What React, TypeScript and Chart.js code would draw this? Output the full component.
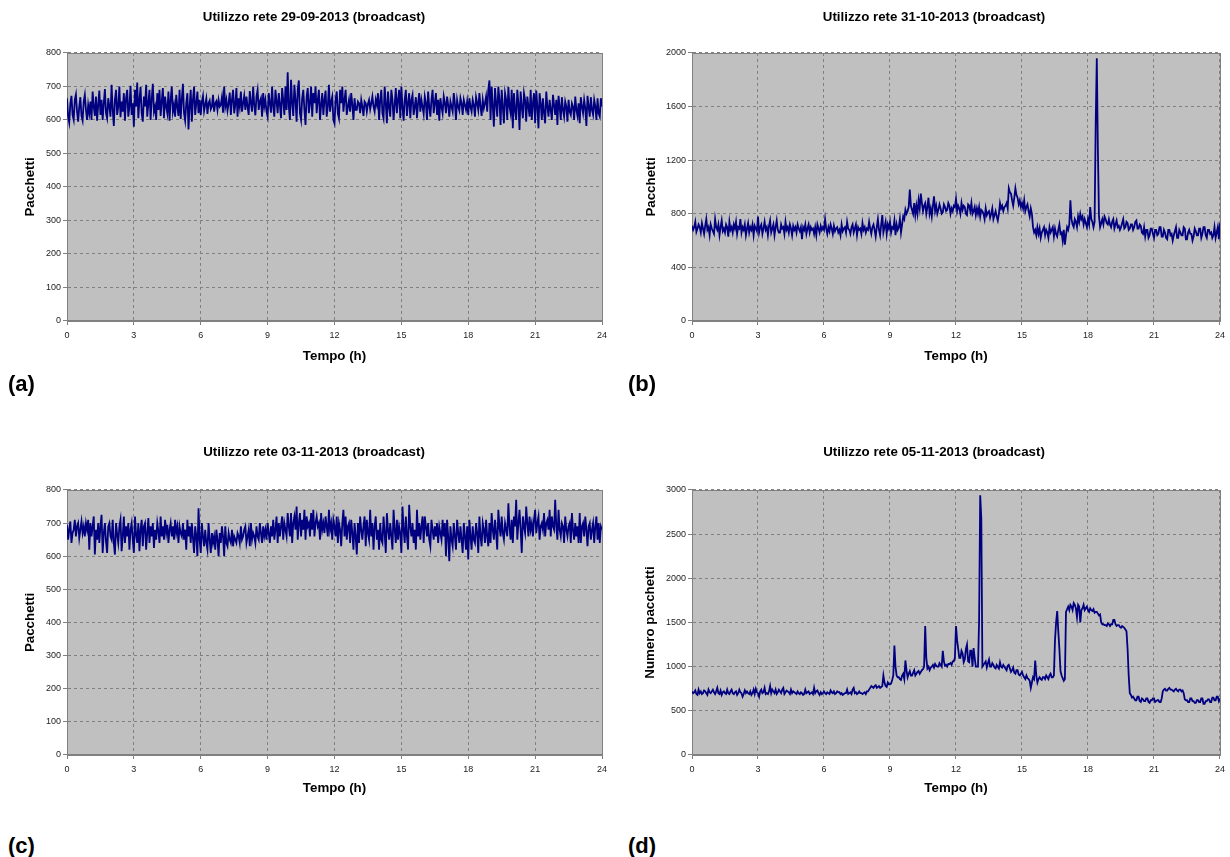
import { useEffect, useRef } from "react";
import { Chart, registerables } from "chart.js";

Chart.register(...registerables);

// ---- data: each series spans 0h .. 24h, one sample every 3 minutes ----
const X_MIN = 0;
const X_MAX = 24;
const X_TICK_STEP = 3;

const titles = [
  "Utilizzo rete 29-09-2013 (broadcast)",
  "Utilizzo rete 31-10-2013 (broadcast)",
  "Utilizzo rete 03-11-2013 (broadcast)",
  "Utilizzo rete 05-11-2013 (broadcast)",
];
const yTitles = ["Pacchetti", "Pacchetti", "Pacchetti", "Numero pacchetti"];
const xTitle = "Tempo (h)";
const panelLabels = ["(a)", "(b)", "(c)", "(d)"];
const yMaxes = [800, 2000, 800, 3000];
const ySteps = [100, 400, 100, 500];

const serie29_09 = [
  665, 610, 592, 648, 672, 615, 600, 660, 676, 625, 595, 640, 668, 612, 598, 655, 675, 630, 600, 645,
  620, 655, 600, 685, 640, 612, 670, 598, 645, 688, 615, 660, 600, 650, 692, 620, 605, 665, 640, 610,
  705, 630, 582, 660, 690, 615, 640, 700, 608, 655, 625, 680, 598, 665, 690, 610, 640, 702, 615, 650,
  580, 690, 640, 712, 605, 660, 698, 620, 595, 670, 640, 705, 610, 650, 690, 600, 662, 708, 625, 640,
  600, 680, 630, 690, 612, 655, 695, 605, 670, 640, 620, 685, 598, 660, 700, 625, 645, 610, 675, 640,
  612, 690, 603, 660, 708, 620, 598, 650, 680, 572, 640, 690, 595, 660, 700, 615, 650, 685, 620, 660,
  615, 655, 672, 626, 645, 664, 618, 650, 658, 632, 640, 675, 625, 650, 656, 630, 660, 640, 645, 668,
  622, 700, 640, 660, 628, 650, 682, 615, 660, 690, 620, 645, 695, 610, 665, 640, 685, 625, 650, 672,
  630, 670, 640, 615, 686, 650, 625, 700, 645, 614, 670, 690, 630, 655, 665, 610, 680, 640, 660, 625,
  610, 680, 650, 622, 700, 640, 610, 690, 655, 620, 680, 645, 605, 695, 660, 615, 700, 630, 742, 640,
  600, 720, 650, 612, 705, 660, 595, 690, 718, 620, 600, 665, 690, 630, 585, 670, 695, 620, 650, 700,
  610, 680, 650, 700, 620, 660, 690, 600, 645, 680, 615, 660, 688, 610, 640, 705, 625, 655, 670, 600,
  590, 660, 685, 620, 605, 690, 650, 700, 625, 660, 690, 615, 640, 660, 625, 680, 645, 600, 665, 630,
  630, 655, 650, 620, 660, 640, 612, 655, 650, 625, 648, 660, 632, 650, 670, 640, 625, 660, 645, 680,
  600, 660, 690, 620, 605, 700, 650, 590, 685, 640, 610, 690, 660, 600, 645, 695, 620, 660, 690, 605,
  700, 640, 598, 660, 690, 612, 650, 680, 605, 660, 675, 615, 640, 668, 605, 650, 680, 625, 660, 640,
  618, 670, 650, 600, 685, 640, 610, 660, 690, 620, 650, 680, 615, 660, 598, 665, 640, 620, 670, 650,
  620, 670, 645, 610, 655, 640, 625, 680, 650, 600, 660, 640, 628, 665, 650, 615, 660, 645, 630, 655,
  615, 665, 640, 625, 660, 645, 610, 668, 650, 630, 680, 640, 612, 660, 635, 650, 670, 625, 690, 718,
  600, 700, 640, 580, 695, 650, 610, 700, 660, 585, 690, 640, 590, 680, 660, 600, 698, 640, 620, 690,
  575, 680, 630, 600, 690, 650, 570, 685, 640, 605, 680, 660, 595, 670, 640, 610, 690, 600, 650, 680,
  590, 688, 640, 575, 680, 650, 600, 665, 620, 590, 685, 640, 610, 660, 630, 600, 675, 645, 615, 660,
  585, 672, 640, 600, 668, 630, 610, 655, 640, 595, 660, 625, 615, 650, 640, 600, 670, 630, 612, 650,
  590, 668, 640, 620, 660, 635, 582, 672, 640, 610, 668, 630, 615, 660, 640, 600, 665, 620, 610, 665,
  640,
];

const serie31_10 = [
  710, 680, 700, 740, 665, 690, 720, 700, 660, 730, 690, 650, 710, 760, 680, 700, 640, 720, 690, 670,
  650, 760, 700, 680, 720, 640, 700, 750, 670, 690, 660, 720, 700, 630, 740, 680, 700, 660, 720, 690,
  740, 650, 700, 690, 760, 660, 700, 680, 720, 640, 690, 730, 660, 700, 680, 720, 640, 710, 690, 670,
  780, 660, 700, 720, 650, 690, 740, 680, 700, 640, 710, 750, 660, 690, 720, 640, 700, 750, 680, 660,
  660, 720, 690, 700, 650, 740, 680, 700, 660, 720, 690, 640, 710, 680, 700, 660, 720, 690, 670, 700,
  610, 700, 680, 720, 650, 690, 720, 660, 700, 680, 690, 650, 700, 640, 720, 690, 660, 710, 680, 700,
  680, 760, 690, 650, 700, 670, 720, 690, 650, 710, 670, 690, 700, 660, 680, 640, 720, 670, 690, 700,
  660, 740, 690, 680, 650, 700, 720, 660, 690, 720, 640, 700, 680, 690, 650, 730, 680, 700, 660, 690,
  680, 740, 690, 650, 700, 720, 680, 630, 700, 760, 680, 640, 720, 790, 660, 700, 740, 650, 720, 690,
  740, 660, 700, 690, 750, 640, 720, 680, 700, 760, 660, 720, 780, 760, 830, 800, 820, 850, 980, 860,
  830, 800, 880, 790, 860, 800, 900, 840, 950, 880, 820, 860, 880, 800, 850, 920, 800, 840, 780, 860,
  930, 820, 860, 800, 830, 870, 840, 800, 810, 870, 850, 820, 830, 880, 860, 800, 840, 820, 860, 850,
  910, 820, 860, 840, 800, 880, 830, 860, 850, 800, 790, 870, 860, 820, 880, 800, 820, 850, 790, 840,
  800, 850, 780, 830, 820, 800, 760, 840, 790, 810, 820, 770, 800, 840, 760, 790, 820, 780, 750, 800,
  880, 840, 860, 820, 850, 860, 880, 840, 990, 960, 950, 900, 860, 920, 990, 940, 920, 870, 900, 850,
  880, 840, 900, 820, 850, 870, 820, 780, 840, 800, 700, 660, 680, 640, 700, 650, 690, 620, 660, 680,
  700, 640, 680, 660, 620, 700, 660, 680, 700, 630, 690, 650, 630, 680, 720, 650, 660, 600, 680, 570,
  640, 700, 680, 720, 900, 760, 720, 700, 760, 740, 700, 780, 740, 800, 760, 780, 720, 760, 730, 700,
  760, 720, 850, 760, 740, 700, 740, 1470, 1960, 1270, 780, 700, 730, 760, 720, 780, 760, 730, 720, 760,
  720, 700, 740, 760, 690, 720, 750, 700, 710, 680, 700, 730, 760, 690, 700, 740, 730, 680, 690, 720,
  720, 680, 700, 740, 750, 690, 690, 720, 710, 660, 650, 700, 630, 680, 680, 620, 640, 690, 690, 650,
  620, 680, 680, 640, 650, 700, 700, 630, 630, 680, 660, 620, 610, 680, 680, 640, 650, 600, 640, 670,
  700, 620, 620, 680, 660, 640, 640, 700, 690, 610, 610, 660, 680, 650, 650, 600, 630, 690, 670, 640,
  640, 690, 690, 620, 650, 700, 700, 640, 620, 680, 680, 650, 660, 620, 640, 700, 620, 660, 700, 610,
  730,
];

const serie03_11 = [
  695, 650, 680, 705, 640, 670, 680, 710, 660, 690, 700, 655, 680, 705, 670, 690, 660, 700, 680, 710,
  620, 700, 660, 690, 720, 605, 680, 650, 700, 640, 690, 725, 610, 670, 700, 645, 610, 690, 700, 660,
  650, 710, 640, 605, 700, 665, 640, 690, 710, 615, 660, 720, 640, 690, 660, 700, 620, 680, 700, 650,
  610, 720, 665, 640, 700, 615, 680, 710, 630, 690, 700, 620, 670, 715, 640, 690, 660, 700, 625, 680,
  650, 700, 675, 640, 720, 660, 690, 650, 710, 670, 695, 640, 680, 700, 660, 690, 650, 710, 670, 690,
  640, 690, 670, 660, 700, 650, 680, 620, 710, 660, 690, 640, 700, 655, 610, 690, 660, 600, 745, 650,
  610, 700, 660, 630, 680, 640, 620, 700, 650, 610, 670, 640, 660, 620, 680, 650, 600, 670, 640, 690,
  660, 600, 690, 640, 630, 670, 650, 640, 680, 630, 660, 650, 640, 670, 660, 640, 690, 650, 660, 680,
  690, 640, 660, 680, 630, 700, 650, 670, 660, 640, 690, 660, 650, 700, 670, 640, 690, 660, 680, 650,
  700, 670, 640, 690, 660, 710, 650, 680, 720, 640, 700, 660, 690, 720, 650, 700, 680, 660, 730, 690,
  660, 730, 640, 700, 720, 680, 750, 650, 700, 730, 660, 710, 680, 740, 650, 720, 690, 700, 660, 730,
  680, 740, 660, 700, 720, 690, 700, 650, 730, 680, 700, 670, 720, 690, 660, 740, 680, 700, 650, 710,
  690, 660, 720, 640, 700, 680, 630, 700, 740, 660, 720, 650, 690, 700, 640, 710, 670, 620, 700, 660,
  605, 700, 640, 720, 680, 650, 690, 720, 630, 710, 670, 650, 740, 660, 700, 620, 690, 720, 650, 680,
  620, 700, 650, 640, 720, 670, 610, 730, 680, 650, 700, 660, 620, 740, 680, 640, 710, 650, 690, 670,
  610, 750, 680, 640, 720, 660, 620, 755, 690, 660, 700, 640, 680, 620, 740, 660, 700, 650, 690, 720,
  640, 720, 690, 660, 700, 650, 630, 710, 680, 650, 690, 660, 700, 640, 690, 670, 650, 710, 660, 700,
  600, 710, 660, 585, 690, 650, 630, 700, 660, 620, 710, 670, 640, 690, 650, 610, 700, 660, 620, 690,
  590, 710, 660, 620, 690, 650, 640, 700, 670, 610, 720, 660, 630, 700, 680, 640, 710, 660, 630, 700,
  640, 730, 680, 650, 710, 670, 620, 740, 690, 660, 720, 670, 650, 700, 680, 660, 760, 690, 650, 710,
  640, 720, 690, 770, 650, 700, 740, 680, 610, 720, 690, 670, 750, 700, 660, 720, 680, 700, 660, 710,
  740, 670, 700, 720, 650, 690, 700, 680, 730, 660, 700, 710, 680, 740, 660, 720, 690, 680, 770, 690,
  650, 740, 680, 660, 700, 690, 640, 720, 680, 660, 690, 700, 640, 730, 680, 650, 700, 660, 690, 640,
  730, 640, 690, 700, 660, 720, 680, 630, 690, 700, 650, 680, 700, 640, 690, 720, 650, 700, 640, 690,
  680,
];

const serie05_11 = [
  720, 700, 710, 730, 690, 680, 740, 700, 720, 690, 700, 730, 720, 700, 680, 740, 710, 700, 720, 740,
  710, 690, 720, 760, 700, 690, 730, 680, 710, 720, 700, 690, 740, 700, 690, 720, 740, 700, 690, 710,
  720, 680, 700, 740, 710, 700, 660, 690, 730, 700, 720, 700, 690, 720, 680, 700, 740, 690, 750, 710,
  700, 660, 720, 740, 700, 710, 760, 690, 700, 690, 720, 780, 700, 740, 720, 700, 740, 690, 710, 740,
  720, 700, 740, 760, 690, 710, 730, 720, 710, 690, 740, 700, 720, 710, 700, 690, 720, 700, 690, 710,
  700, 680, 690, 740, 700, 710, 720, 690, 700, 710, 690, 760, 700, 720, 730, 700, 680, 710, 690, 700,
  720, 700, 690, 710, 700, 690, 730, 710, 700, 720, 690, 700, 720, 710, 710, 690, 700, 680, 690, 700,
  700, 740, 690, 700, 710, 690, 740, 760, 700, 710, 690, 700, 720, 700, 700, 690, 700, 710, 690, 720,
  720, 740, 760, 780, 770, 760, 780, 790, 760, 770, 780, 760, 770, 780, 900, 820, 780, 770, 820, 800,
  800, 810, 850, 900, 1240, 1000, 900, 880, 880, 860, 850, 900, 920, 860, 1070, 960, 880, 920, 950, 900,
  900, 930, 960, 900, 920, 940, 950, 920, 940, 960, 970, 1000, 1460, 1100, 980, 1000, 960, 990, 1000, 1020,
  990, 1030, 1010, 1000, 1000, 1040, 1020, 1000, 1180, 1060, 1010, 1020, 1000, 1030, 1030, 1040, 1020, 1060, 1060, 1100,
  1460, 1300, 1200, 1100, 1100, 1180, 1150, 1050, 1080, 1200, 1250, 1060, 1050, 1180, 1180, 1000, 1210, 1100, 1000, 1000,
  1000, 1520, 2940, 2680, 1000, 1020, 1040, 1060, 990, 1040, 1080, 1000, 1000, 1040, 1020, 990, 980, 1020, 1000, 980,
  1050, 1000, 990, 1020, 1000, 980, 960, 1010, 1020, 980, 940, 960, 990, 930, 920, 960, 960, 910, 900, 920,
  940, 900, 880, 860, 900, 870, 860, 840, 760, 820, 880, 860, 1070, 900, 820, 860, 880, 860, 850, 880,
  880, 860, 900, 880, 860, 900, 920, 880, 880, 900, 1300, 1500, 1630, 1400, 1200, 950, 900, 870, 840, 860,
  1620, 1650, 1680, 1640, 1700, 1680, 1640, 1720, 1700, 1660, 1560, 1700, 1680, 1500, 1640, 1660, 1700, 1640, 1660, 1680,
  1640, 1620, 1660, 1640, 1630, 1650, 1610, 1620, 1620, 1600, 1580, 1590, 1500, 1480, 1480, 1470, 1470, 1460, 1490, 1480,
  1460, 1480, 1480, 1530, 1530, 1480, 1460, 1470, 1470, 1450, 1440, 1460, 1450, 1440, 1420, 1400, 1200, 900, 700, 680,
  650, 660, 640, 620, 620, 660, 660, 610, 600, 640, 630, 610, 610, 640, 640, 600, 590, 620, 620, 640,
  640, 600, 610, 620, 620, 600, 600, 640, 720, 740, 750, 730, 730, 750, 760, 740, 740, 730, 720, 740,
  750, 730, 720, 740, 740, 720, 730, 700, 630, 620, 620, 600, 600, 640, 640, 610, 610, 590, 590, 620,
  620, 600, 600, 640, 640, 580, 580, 610, 610, 630, 630, 600, 600, 650, 650, 620, 620, 660, 660, 610,
  640,
];

const seriesList = [serie29_09, serie31_10, serie03_11, serie05_11];

// ---- layout / style ----
const SANS = '"Liberation Sans", Arial, sans-serif';
const TITLE_SIZE = 13.3;
const CANVAS_W = 615;
const CANVAS_H = 372;

type Geo = {
  left: number; top: number;
  padL: number; padR: number; yAxisW: number; yTitlePad: number;
  titlePadTop: number; titlePadBottom: number; xAxisH: number; xTitlePad: number;
};

const geos: Geo[] = [
  { left: 0, top: 0, padL: 26, padR: 13, yAxisW: 41, yTitlePad: -4, titlePadTop: 9.5, titlePadBottom: 27.5, xAxisH: 51, xTitlePad: 8 },
  { left: 615, top: 0, padL: 31, padR: 8, yAxisW: 46, yTitlePad: -3, titlePadTop: 9.5, titlePadBottom: 27.5, xAxisH: 51, xTitlePad: 8 },
  { left: 0, top: 435, padL: 26, padR: 13, yAxisW: 41, yTitlePad: -4, titlePadTop: 9.5, titlePadBottom: 29.5, xAxisH: 52, xTitlePad: 11 },
  { left: 615, top: 435, padL: 31, padR: 8, yAxisW: 46, yTitlePad: -4, titlePadTop: 9.5, titlePadBottom: 29.5, xAxisH: 52, xTitlePad: 11 },
];
const labelPos = [
  { left: 8, top: 371 },
  { left: 628, top: 371 },
  { left: 8, top: 833 },
  { left: 628, top: 833 },
];

const plotFrame = {
  id: "plotFrame",
  beforeDraw(chart: any) {
    const { ctx, chartArea } = chart;
    ctx.save();
    ctx.fillStyle = "#c0c0c0";
    ctx.fillRect(chartArea.left, chartArea.top, chartArea.right - chartArea.left, chartArea.bottom - chartArea.top);
    ctx.restore();
  },
  beforeDatasetsDraw(chart: any) {
    const { ctx, chartArea } = chart;
    ctx.save();
    ctx.strokeStyle = "#808080";
    ctx.lineWidth = 1;
    ctx.strokeRect(
      Math.round(chartArea.left) + 0.5,
      Math.round(chartArea.top) + 0.5,
      Math.round(chartArea.right - chartArea.left),
      Math.round(chartArea.bottom - chartArea.top)
    );
    ctx.restore();
  },
};

const plainNumber = (v: any) => String(v);

function Panel({ idx }: { idx: number }) {
  const ref = useRef<HTMLCanvasElement | null>(null);
  useEffect(() => {
    const g = geos[idx];
    const values = seriesList[idx];
    const step = (X_MAX - X_MIN) / (values.length - 1);
    const points = values.map((v, i) => ({ x: X_MIN + i * step, y: v }));
    const titleFont = { family: SANS, size: TITLE_SIZE, weight: "bold", lineHeight: 1.2 };
    const chart = new Chart(ref.current as HTMLCanvasElement, {
      type: "line",
      data: {
        datasets: [
          {
            data: points,
            borderColor: "#000080",
            borderWidth: 1.8,
            pointRadius: 0,
            tension: 0,
            fill: false,
          },
        ],
      },
      plugins: [plotFrame],
      options: {
        animation: false,
        responsive: false,
        devicePixelRatio: 1,
        parsing: false,
        layout: { padding: { left: g.padL, right: g.padR, top: 0, bottom: 0 } },
        plugins: {
          legend: { display: false },
          tooltip: { enabled: false },
          title: {
            display: true,
            text: titles[idx],
            color: "#000",
            font: titleFont,
            padding: { top: g.titlePadTop, bottom: g.titlePadBottom },
          },
        },
        scales: {
          x: {
            type: "linear",
            min: X_MIN,
            max: X_MAX,
            afterFit: (s: any) => { s.height = g.xAxisH; },
            ticks: { stepSize: X_TICK_STEP, color: "#222", font: { family: SANS, size: 9 }, padding: 5, maxRotation: 0, autoSkip: false, callback: plainNumber },
            grid: { color: "#808080", lineWidth: 1, tickLength: 4, tickColor: "#808080", tickBorderDash: [] },
            border: { display: true, color: "#808080", width: 1, dash: [3, 3] },
            title: {
              display: true,
              text: xTitle,
              color: "#000",
              font: titleFont,
              padding: { top: 0, bottom: g.xTitlePad },
            },
          },
          y: {
            type: "linear",
            min: 0,
            max: yMaxes[idx],
            afterFit: (s: any) => { s.width = g.yAxisW; },
            ticks: { stepSize: ySteps[idx], color: "#222", font: { family: SANS, size: 9 }, padding: 2, callback: plainNumber },
            grid: { color: "#808080", lineWidth: 1, tickLength: 4, tickColor: "#808080", tickBorderDash: [] },
            border: { display: true, color: "#808080", width: 1, dash: [3, 3] },
            title: {
              display: true,
              text: yTitles[idx],
              color: "#000",
              font: titleFont,
              padding: { top: g.yTitlePad, bottom: 0 },
            },
          },
        },
      } as any,
    });
    return () => chart.destroy();
  }, [idx]);
  const g = geos[idx];
  return (
    <canvas
      ref={ref}
      width={CANVAS_W}
      height={CANVAS_H}
      style={{ position: "absolute", left: g.left, top: g.top, width: CANVAS_W, height: CANVAS_H }}
    />
  );
}

export default function App() {
  return (
    <div style={{ position: "absolute", left: 0, top: 0, width: 1230, height: 857, background: "#fff", overflow: "hidden" }}>
      {[0, 1, 2, 3].map((i) => (
        <Panel key={i} idx={i} />
      ))}
      {panelLabels.map((t, i) => (
        <div
          key={t}
          style={{
            position: "absolute",
            left: labelPos[i].left,
            top: labelPos[i].top,
            font: `bold 22px ${SANS}`,
            lineHeight: "26px",
            color: "#000",
          }}
        >
          {t}
        </div>
      ))}
    </div>
  );
}
